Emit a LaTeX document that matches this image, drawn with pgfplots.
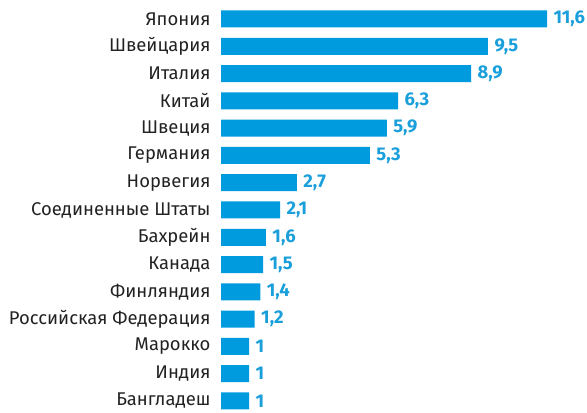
\documentclass[border=0pt]{standalone}
\usepackage{pgfplots}
\pgfplotsset{compat=1.18}
\usepackage{fontspec}
\setmainfont{Fira Sans}
\definecolor{barblue}{HTML}{009BDE}
\definecolor{valblue}{HTML}{1A9FDB}
\definecolor{txt}{HTML}{222222}
\begin{document}
\begin{tikzpicture}[x=1bp,y=1bp]
\begin{axis}[
  at={(221bp,0bp)}, anchor=south west,
  scale only axis, width=326bp, height=413bp,
  xbar, bar width=17bp,
  xmin=0, xmax=11.6,
  ymin=-0.696, ymax=14.44,
  y dir=reverse,
  axis line style={draw=none},
  xtick=\empty,
  ytick={0,...,14},
  yticklabels={Япония,Швейцария,Италия,Китай,Швеция,Германия,Норвегия,Соединенные Штаты,Бахрейн,Канада,Финляндия,Российская Федерация,Марокко,Индия,Бангладеш},
  yticklabel style={font=\fontsize{18.5}{20}\selectfont, text=txt},
  major tick length=0pt,
  ytick style={draw=none},
  y tick label style={xshift=-7bp},
  clip=false,
  nodes near coords,
  nodes near coords style={font=\fontsize{18.5}{20}\selectfont\bfseries, text=valblue, xshift=3bp},
  /pgf/number format/use comma,
  /pgf/number format/assume math mode=true,
]
\addplot[fill=barblue, draw=none] coordinates {
(11.6,0) (9.5,1) (8.9,2) (6.3,3) (5.9,4) (5.3,5) (2.7,6) (2.1,7) (1.6,8) (1.5,9) (1.4,10) (1.2,11) (1,12) (1,13) (1,14)
};
\end{axis}
\pgfresetboundingbox
\useasboundingbox (0,0) rectangle (587bp,413bp);
\end{tikzpicture}
\end{document}
